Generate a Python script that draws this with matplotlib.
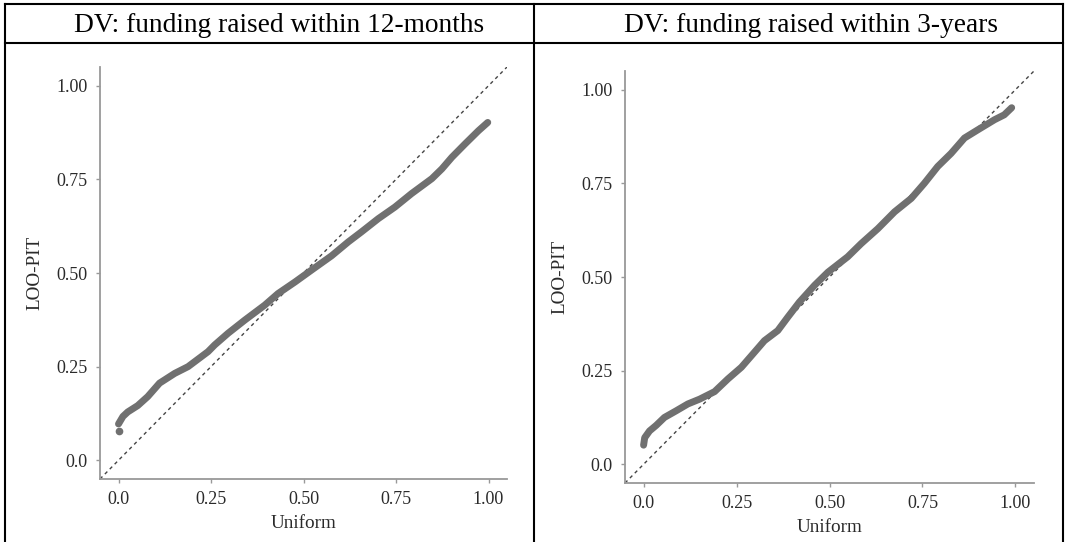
import numpy as np
import matplotlib.pyplot as plt
from matplotlib.lines import Line2D

plt.rcParams['font.family'] = ['Liberation Serif', 'DejaVu Serif']

# panel titles
titles = ["DV: funding raised within 12-months", "DV: funding raised within 3-years"]

# LOO-PIT curve (uniform quantile, LOO-PIT value)
u_12m = [0.0, 0.012, 0.025, 0.052, 0.079, 0.111, 0.152, 0.188, 0.242, 0.260,
         0.296, 0.341, 0.395, 0.431, 0.477, 0.522, 0.576, 0.621, 0.657, 0.702,
         0.747, 0.792, 0.847, 0.874, 0.901, 0.937, 0.973, 0.998]
pit_12m = [0.097, 0.117, 0.129, 0.146, 0.170, 0.206, 0.232, 0.250, 0.290, 0.308,
           0.339, 0.374, 0.414, 0.445, 0.476, 0.508, 0.546, 0.583, 0.610, 0.645,
           0.676, 0.712, 0.752, 0.778, 0.809, 0.845, 0.880, 0.902]
# lone lowest point
out_12m = (0.0, 0.077)

# right panel
u_3y = [0.0, 0.003, 0.016, 0.034, 0.056, 0.088, 0.119, 0.151, 0.191, 0.227,
        0.263, 0.298, 0.325, 0.361, 0.388, 0.419, 0.460, 0.496, 0.549, 0.585,
        0.630, 0.675, 0.720, 0.755, 0.791, 0.827, 0.863, 0.899, 0.944, 0.970, 0.990]
pit_3y = [0.051, 0.071, 0.089, 0.104, 0.125, 0.143, 0.161, 0.174, 0.194, 0.228,
          0.259, 0.299, 0.330, 0.357, 0.393, 0.433, 0.478, 0.513, 0.554, 0.589,
          0.629, 0.674, 0.710, 0.750, 0.795, 0.830, 0.871, 0.893, 0.920, 0.933, 0.952]

ticks = [0.0, 0.25, 0.50, 0.75, 1.00]
tick_labels = ["0.0", "0.25", "0.50", "0.75", "1.00"]

W, H = 1065, 542
fig = plt.figure(figsize=(W / 100, H / 100), dpi=100)


def px_axes(x0, y0, x1, y1):
    # axes rectangle given in pixel coords (top-left origin)
    return fig.add_axes([x0 / W, 1 - y1 / H, (x1 - x0) / W, (y1 - y0) / H])


ax1 = px_axes(100, 67, 507, 479)
ax2 = px_axes(625, 71, 1034, 483)

for ax, u, p in [(ax1, u_12m, pit_12m), (ax2, u_3y, pit_3y)]:
    ax.plot([-0.05, 1.05], [-0.05, 1.05], ls=(0, (2.5, 2.5)), color='#444444', lw=1.0)
    ax.plot(u, p, color='#707070', lw=5, solid_capstyle='round', solid_joinstyle='round')
    ax.set_xlim(-0.05, 1.05)
    ax.set_ylim(-0.05, 1.05)
    ax.set_xticks(ticks)
    ax.set_xticklabels(tick_labels)
    ax.set_yticks(ticks)
    ax.set_yticklabels(tick_labels)
    ax.tick_params(colors='#999999', labelcolor='#2a2a2a', length=3, width=1,
                   labelsize=13, pad=6)
    for side in ['top', 'right']:
        ax.spines[side].set_visible(False)
    for side in ['left', 'bottom']:
        ax.spines[side].set_color('#999999')
        ax.spines[side].set_linewidth(1.3)
    ax.set_xlabel("Uniform", fontsize=13.8, color='#2a2a2a', labelpad=5)
    ax.set_ylabel("LOO-PIT", fontsize=13.8, color='#2a2a2a', labelpad=9)

ax1.plot([out_12m[0]], [out_12m[1]], 'o', color='#707070', ms=4.5)

# table frame
lw = 1.5
for x in [5, 534, 1063]:
    fig.add_artist(Line2D([x / W, x / W], [0, 1 - 4 / H], color='black', lw=lw))
for y in [4, 43]:
    fig.add_artist(Line2D([5 / W, 1063 / W], [1 - y / H, 1 - y / H], color='black', lw=lw))

fig.text(279 / W, 1 - 32 / H, titles[0], ha='center', va='baseline', fontsize=19.7)
fig.text(811 / W, 1 - 32 / H, titles[1], ha='center', va='baseline', fontsize=19.7)

fig.savefig("out.png", dpi=100)
